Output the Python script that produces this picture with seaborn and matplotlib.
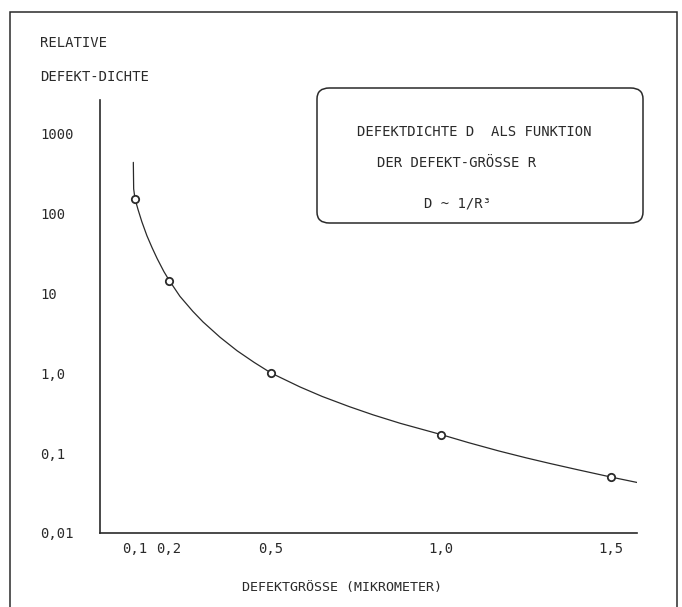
"""
Defektdichte als Funktion der Defektgroesse - recreated plot.
"""

import matplotlib
matplotlib.use("Agg")
import matplotlib.pyplot as plt
import seaborn as sns
from matplotlib.patches import FancyBboxPatch, Rectangle
from matplotlib.ticker import NullLocator


# ──────────────────────────────────────────────
# Data
# ──────────────────────────────────────────────

size_um = [0.1, 0.2, 0.5, 1.0, 1.5]
density = [150, 14, 1.0, 0.17, 0.05]

# traced line D ~ 1/R^3
curve_x = [0.095, 0.096, 0.100, 0.109, 0.120, 0.135, 0.150, 0.165, 0.185,
           0.200, 0.232, 0.270, 0.300, 0.350, 0.400, 0.450, 0.500, 0.585,
           0.650, 0.730, 0.800, 0.880, 1.000, 1.080, 1.170, 1.250, 1.320,
           1.400, 1.500, 1.610]
curve_y = [430, 200, 150, 110, 78, 52, 37, 27, 18.5,
           14.5, 9.1, 5.9, 4.35, 2.8, 1.9, 1.36, 1.0, 0.67,
           0.51, 0.38, 0.30, 0.235, 0.17, 0.135, 0.106, 0.087, 0.074,
           0.062, 0.050, 0.040]

x_ticks = [0.1, 0.2, 0.5, 1.0, 1.5]
x_ticklabels = ["0,1", "0,2", "0,5", "1,0", "1,5"]
y_ticks = [0.01, 0.1, 1, 10, 100, 1000]
y_ticklabels = ["0,01", "0,1", "1,0", "10", "100", "1000"]

W, H = 682, 607
INK = "#2a2a2a"


def fx(px):
    return px / W


def fy(py):
    return 1 - py / H


# ──────────────────────────────────────────────
# Figure
# ──────────────────────────────────────────────

sns.set_theme(style="white")
plt.rcParams["font.family"] = ["DejaVu Sans Mono", "DejaVu Sans"]
plt.rcParams["font.size"] = 10
plt.rcParams["text.color"] = INK

fig = plt.figure(figsize=(W / 100, H / 100), dpi=100)
ax = fig.add_axes([fx(100), fy(533), (637 - 100) / W, (533 - 100) / H])

sns.lineplot(x=curve_x, y=curve_y, sort=False, color=INK, linewidth=0.9, ax=ax)
sns.scatterplot(x=size_um, y=density, s=28, marker="o", facecolor="white",
                edgecolor=INK, linewidth=1.3, zorder=3, ax=ax)

ax.set_yscale("log")
ax.set_ylim(0.01, 2590)
ax.set_xlim(-0.003, 1.576)

ax.set_yticks(y_ticks, y_ticklabels)
ax.yaxis.set_minor_locator(NullLocator())
ax.set_xticks(x_ticks, x_ticklabels)

ax.tick_params(axis="y", direction="in", length=5, width=1.1, color=INK,
               pad=43, labelsize=10, labelcolor=INK)
for lab in ax.get_yticklabels():
    lab.set_horizontalalignment("left")
ax.tick_params(axis="x", direction="out", length=2.5, width=1.5, color="#555",
               pad=4, labelsize=10, labelcolor=INK)

for side in ("top", "right"):
    ax.spines[side].set_visible(False)
for side in ("left", "bottom"):
    ax.spines[side].set_color(INK)
    ax.spines[side].set_linewidth(1.2)

# axis captions
fig.text(fx(40), fy(43), "RELATIVE", ha="left", va="center")
fig.text(fx(40), fy(77), "DEFEKT-DICHTE", ha="left", va="center")
fig.text(fx(342), fy(588), "DEFEKTGRÖSSE (MIKROMETER)", ha="center", va="center",
         fontsize=9.6)

# legend box
box = FancyBboxPatch((fx(317), fy(223)), (643 - 317) / W, (223 - 88) / H,
                     boxstyle="round,pad=0,rounding_size=0.018",
                     transform=fig.transFigure, facecolor="none",
                     edgecolor=INK, linewidth=1.1)
fig.add_artist(box)
fig.text(fx(357), fy(132), "DEFEKTDICHTE D  ALS FUNKTION", ha="left", va="center")
fig.text(fx(377), fy(163), "DER DEFEKT-GRÖSSE R", ha="left", va="center")
fig.text(fx(424), fy(203), "D ~ 1/R³", ha="left", va="center")

# outer frame, open at the bottom edge
frame = Rectangle((fx(10), fy(625)), (677 - 10) / W, (625 - 12) / H,
                  transform=fig.transFigure, facecolor="none",
                  edgecolor=INK, linewidth=1.1, clip_on=False)
fig.add_artist(frame)

fig.savefig("out.png", dpi=100)
